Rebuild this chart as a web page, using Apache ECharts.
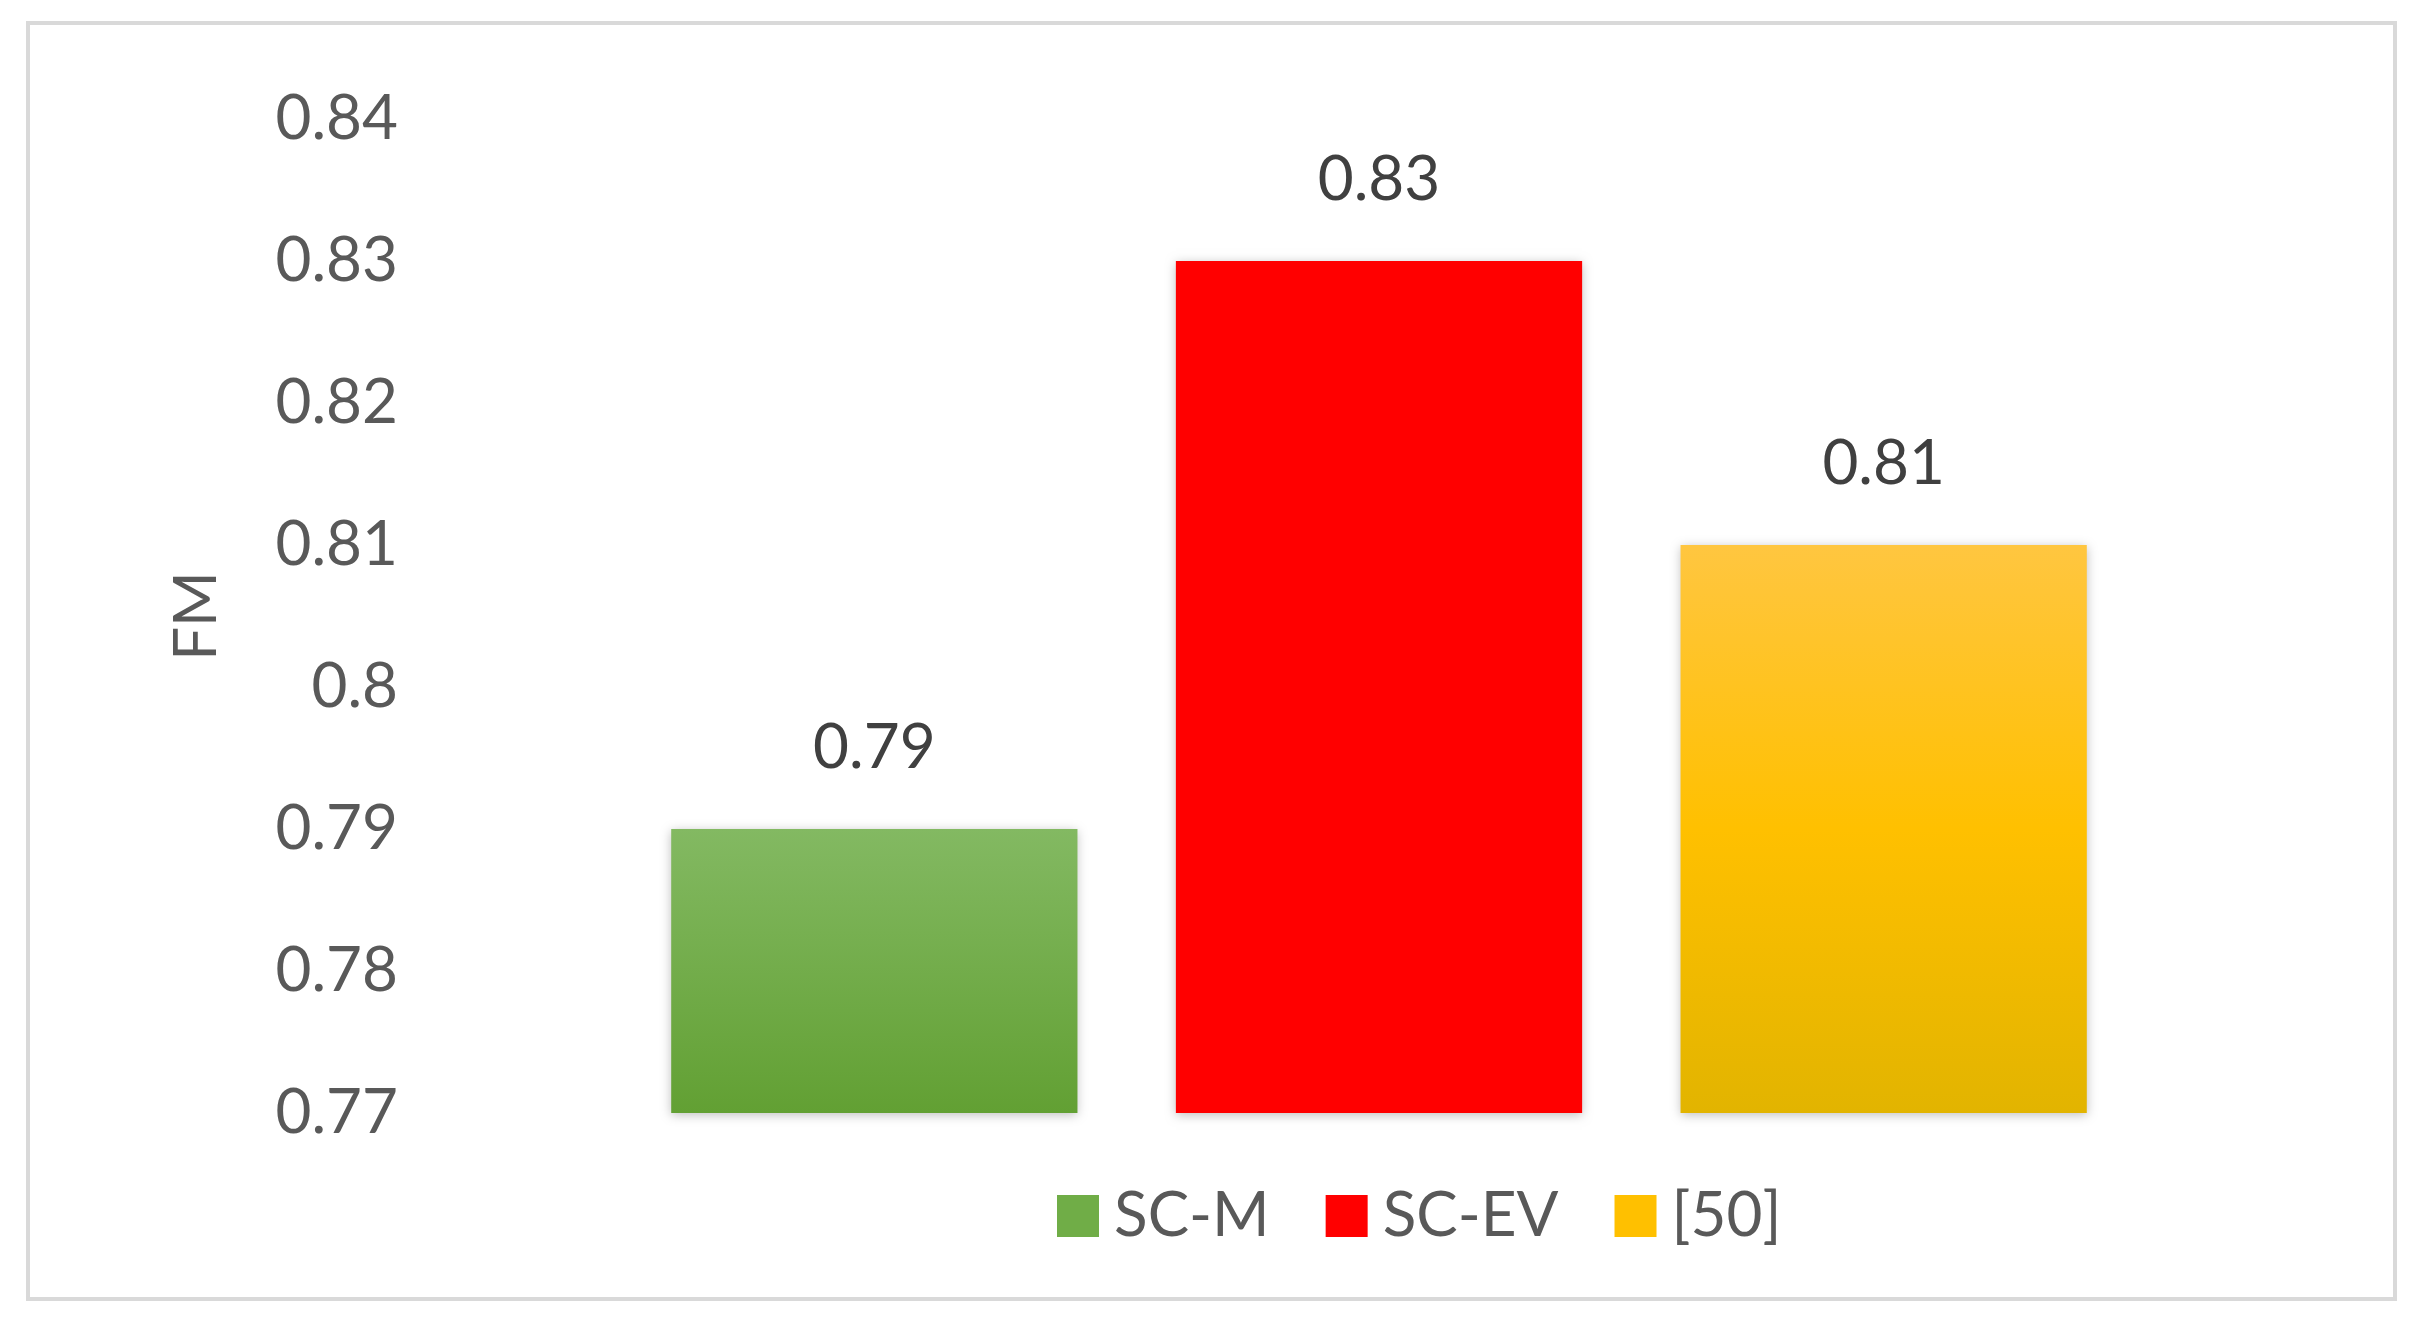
<!DOCTYPE html>
<html><head><meta charset="utf-8">
<script src="https://cdn.jsdelivr.net/npm/echarts@6/dist/echarts.min.js"></script>
<style>html,body{margin:0;padding:0;background:#fff}#c{width:2418px;height:1320px}</style>
</head><body><div id="c"></div>
<script>
const categories = ['SC-M', 'SC-EV', '[50]'];
const values = [0.79, 0.83, 0.81];
const yTicks = { min: 0.77, max: 0.84, interval: 0.01 };
const font = 'Lato, "Open Sans", sans-serif';
const colors = [
  new echarts.graphic.LinearGradient(0,0,0,1,[{offset:0,color:'#83b962'},{offset:1,color:'#62a033'}]),
  '#ff0000',
  new echarts.graphic.LinearGradient(0,0,0,1,[{offset:0,color:'#ffc640'},{offset:0.5,color:'#ffc000'},{offset:1,color:'#e2b400'}])
];
const legendColors = ['#70ad47', '#ff0000', '#ffc000'];
const chart = echarts.init(document.getElementById('c'));
chart.setOption({
  animation: false,
  graphic: [{type:'rect', shape:{x:28,y:23,width:2367,height:1276}, style:{fill:'none', stroke:'#d9d9d9', lineWidth:4}}],
  grid: { left: 622, right: 282, top: 119, bottom: 207 },
  legend: {
    data: categories.map((c,i)=>({name:c, itemStyle:{color:legendColors[i]}})),
    bottom: 68, left: 1052, itemWidth: 42, itemHeight: 42, itemGap: 56,
    textStyle: { fontSize: 62, color: '#595959', fontFamily: font, padding: [0,0,0,10] },
    icon: 'rect'
  },
  xAxis: { type: 'category', data: categories, show: false },
  yAxis: {
    type: 'value', min: yTicks.min, max: yTicks.max, interval: yTicks.interval,
    name: 'FM', nameLocation: 'middle', nameGap: 395, nameRotate: 90,
    nameTextStyle: { fontSize: 60, color: '#595959', fontFamily: font },
    axisLabel: { margin: 224, fontSize: 62, color: '#595959', fontFamily: font, formatter: v => String(+v.toFixed(2)) },
    splitLine: { show: false }, axisLine: { show: false }, axisTick: { show: false }
  },
  series: categories.map((c,i)=>({
    name: c, type: 'bar', stack: 'a', barWidth: '80.5%',
    data: values.map((v,j)=> j===i ? v : null),
    itemStyle: { color: colors[i], shadowColor:'rgba(0,0,0,0.25)', shadowBlur: 10, shadowOffsetY: 2 },
    label: { show: true, position: 'top', distance: 50, fontSize: 62, color: '#404040', fontFamily: font, formatter: p => p.value.toFixed(2) }
  }))
});
</script></body></html>
